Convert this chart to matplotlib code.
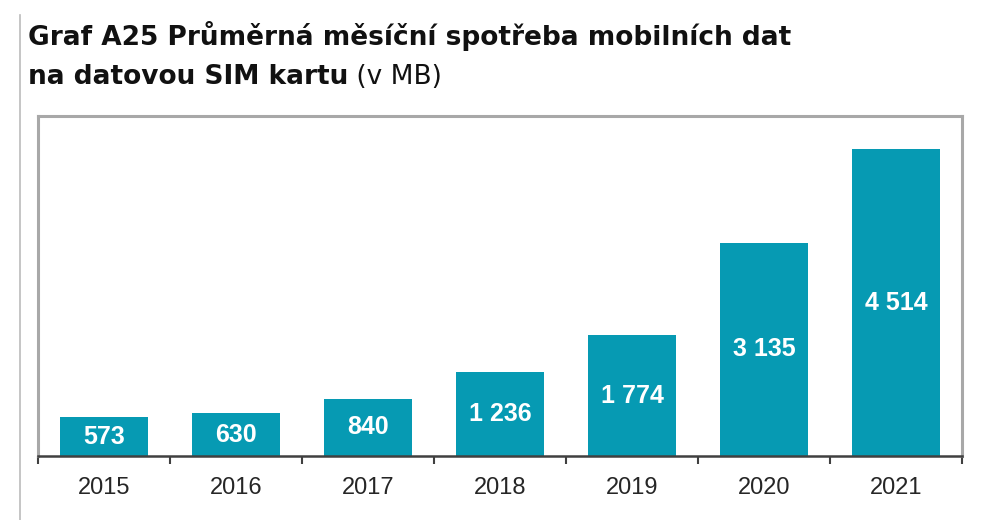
import matplotlib
matplotlib.use("Agg")
import matplotlib.pyplot as plt
from matplotlib.lines import Line2D
from matplotlib import font_manager as fm
import numpy as np
import os

years = ["2015", "2016", "2017", "2018", "2019", "2020", "2021"]
values = [573, 630, 840, 1236, 1774, 3135, 4514]
title_line1 = "Graf A25 Průměrná měsíční spotřeba mobilních dat"
title_line2_bold = "na datovou SIM kartu"
title_line2_norm = " (v MB)"

def font_file(name):
    for f in fm.findSystemFonts():
        if os.path.basename(f).lower() == name.lower():
            return f
    return None

reg_file = font_file("LiberationSans-Regular.ttf")
bold_file = font_file("LiberationSans-Bold.ttf")

def fprop(bold, size):
    f = bold_file if bold else reg_file
    if f:
        return fm.FontProperties(fname=f, size=size)
    return fm.FontProperties(family="Liberation Sans", weight="bold" if bold else "normal", size=size)

plt.rcParams['font.family'] = ['Liberation Sans', 'DejaVu Sans']

fig = plt.figure(figsize=(10.05, 5.2), dpi=100)
W, H = 1005, 520
ax = fig.add_axes([38 / W, (H - 456) / H, 924 / W, 340 / H])

x = np.arange(len(years))
bar_color = "#069AB3"
bars = ax.bar(x, values, width=0.667, color=bar_color, zorder=2)

for xi, v in zip(x, values):
    label = f"{v:,}".replace(",", " ")
    ax.text(xi, v / 2, label, ha="center", va="center", color="white",
            fontproperties=fprop(True, 18), zorder=3)

ax.set_xlim(-0.5, len(years) - 0.5)
ax.set_ylim(0, 5000)
ax.set_yticks([])
ax.set_xticks(x)
ax.set_xticklabels(years, fontproperties=fprop(False, 17), color="#262626")
ax.tick_params(axis="x", which="major", length=0, pad=15)
ax.set_xticks(np.arange(-0.5, len(years), 1.0), minor=True)
ax.tick_params(axis="x", which="minor", length=6, width=1.5, color="#404040", direction="out")

for side in ["left", "top", "right"]:
    ax.spines[side].set_color("#A8A8A8")
    ax.spines[side].set_linewidth(2.2)
ax.spines["bottom"].set_color("#404040")
ax.spines["bottom"].set_linewidth(1.8)
ax.spines["bottom"].set_zorder(4)

# title
title_font = ['DejaVu Sans']
fig.text(28 / W, 1 - 36 / H, title_line1, fontsize=19, fontweight="bold",
         family=title_font, color="#111111", va="center", ha="left")
t2 = fig.text(28 / W, 1 - 77 / H, title_line2_bold, fontsize=19, fontweight="bold",
              family=title_font, color="#111111", va="center", ha="left")
fig.canvas.draw()
bb = t2.get_window_extent()
fig.text(bb.x1 / W, 1 - 77 / H, title_line2_norm, fontsize=19, family=title_font,
         color="#111111", va="center", ha="left")

# page border line on the left
fig.add_artist(Line2D([20 / W, 20 / W], [0, 1 - 15 / H], transform=fig.transFigure,
                      color="#BBBBBB", linewidth=1.2))

fig.savefig("out.png", dpi=100)
